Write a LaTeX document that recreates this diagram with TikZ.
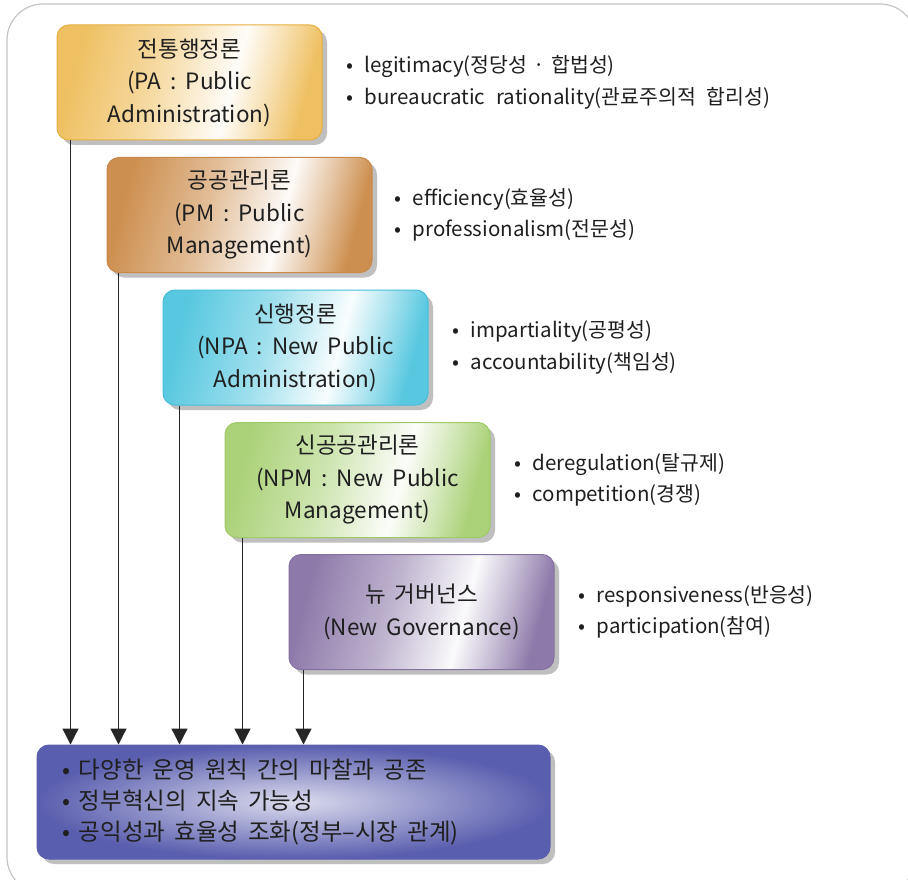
\documentclass[tikz,border=0pt]{standalone}
\usepackage{fontspec}
\setmainfont{Noto Sans CJK KR}
\usetikzlibrary{arrows.meta,shadows,positioning}

% box colours: fill tone and border tone
\definecolor{paC}{HTML}{EFC062}
\definecolor{paB}{HTML}{E6B040}
\definecolor{pmC}{HTML}{CD8F4F}
\definecolor{pmB}{HTML}{C8884A}
\definecolor{npaC}{HTML}{58C8E0}
\definecolor{npaB}{HTML}{48BED8}
\definecolor{npmC}{HTML}{ABD279}
\definecolor{npmB}{HTML}{9FCA66}
\definecolor{ngC}{HTML}{8E7AAA}
\definecolor{ngB}{HTML}{8670A2}
\definecolor{resC}{HTML}{5A5EAE}
\definecolor{frameC}{HTML}{C4C4C4}

% diagonal light streak across a box
\newcommand\mkstreak[2]{%
  \colorlet{#1-a}{#2!58!white}%
  \colorlet{#1-b}{#2!4!white}%
  \colorlet{#1-c}{#2!50!white}%
  \pgfdeclarehorizontalshading{#1}{100bp}{color(0bp)=(#2); color(25bp)=(#2);
    color(43bp)=(#1-a); color(59bp)=(#1-b); color(67bp)=(#1-c);
    color(75bp)=(#2); color(100bp)=(#2)}}
\mkstreak{shPA}{paC}
\mkstreak{shPM}{pmC}
\mkstreak{shNPA}{npaC}
\mkstreak{shNPM}{npmC}
\mkstreak{shNG}{ngC}

% narrow spacing around a middle dot
\newcommand\mdot{\hspace{0.3em}·\hspace{0.3em}}
% word gap in the summary box
\newcommand\wgap{\hspace{9pt}}

\tikzset{
  theory/.style={shade, rounded corners=12pt, minimum width=265pt,
    minimum height=115pt, inner sep=0pt, align=center, line width=1pt,
    font={\fontsize{22.5}{32.5}\selectfont\spaceskip=9pt\relax},
    text=black!88, shading angle=-15,
    drop shadow={shadow xshift=5pt, shadow yshift=-5pt, fill=black!25, opacity=1}},
  items/.style={align=left, inner sep=0pt, anchor=west,
    font={\fontsize{20.5}{31.5}\selectfont\spaceskip=11pt\relax}, text=black!88},
  resbox/.style={rounded corners=12pt, minimum width=513pt, minimum height=114pt,
    text width=463pt, inner xsep=25pt, align=left, line width=1pt,
    draw=resC, inner color=resC!22!white, outer color=resC,
    font=\fontsize{23.5}{31}\selectfont, text=black!88,
    drop shadow={shadow xshift=5pt, shadow yshift=-5pt, fill=black!25, opacity=1}},
  flow/.style={line width=1.3pt, draw=black!85,
    -{Triangle[width=16pt,length=16pt]}},
  frame/.style={draw=frameC, line width=1.2pt, rounded corners=36pt},
}

\begin{document}
\begin{tikzpicture}[x=1pt, y=-1pt]
  \useasboundingbox (0,0) rectangle (908,880);
  \fill[white] (0,0) rectangle (908,880);
  \draw[frame] (7,4) rectangle (916,893);

  % five theory boxes
  \node[theory, shading=shPA, draw=paB] (pa) at (189.5,82.5)
    {전통행정론\\(PA : Public\\Administration)};
  \node[theory, shading=shPM, draw=pmB] (pm) at (239.5,215)
    {공공관리론\\(PM : Public\\Management)};
  \node[theory, shading=shNPA, draw=npaB] (npa) at (295.5,347.5)
    {신행정론\\(NPA : New Public\\Administration)};
  \node[theory, shading=shNPM, draw=npmB] (npm) at (357.5,480)
    {신공공관리론\\(NPM : New Public\\Management)};
  \node[theory, shading=shNG, draw=ngB] (ng) at (421.5,612)
    {뉴 거버넌스\\(New Governance)};

  % values attached to each theory
  \node[items, right=24pt of pa] (pa-items)
    {• legitimacy(정당성\mdot 합법성)\\• bureaucratic rationality(관료주의적 합리성)};
  \node[items, right=22pt of pm] (pm-items)
    {• efficiency(효율성)\\• professionalism(전문성)};
  \node[items, right=24pt of npa] (npa-items)
    {• impartiality(공평성)\\• accountability(책임성)};
  \node[items, right=24pt of npm] (npm-items)
    {• deregulation(탈규제)\\• competition(경쟁)};
  \node[items, right=24pt of ng] (ng-items)
    {• responsiveness(반응성)\\• participation(참여)};

  % summary box
  \node[resbox] (res) at (293.5,802)
    {•\wgap 다양한\wgap 운영\wgap 원칙\wgap 간의\wgap 마찰과\wgap 공존\\
     •\wgap 정부혁신의\wgap 지속\wgap 가능성\\
     •\wgap 공익성과\wgap 효율성\wgap 조화(정부–시장\wgap 관계)};

  % connectors into the summary box
  \draw[flow] ([xshift=14pt]pa.south west)  -- ([xshift=14pt]pa.south west |- res.north);
  \draw[flow] ([xshift=12pt]pm.south west)  -- ([xshift=12pt]pm.south west |- res.north);
  \draw[flow] ([xshift=17pt]npa.south west) -- ([xshift=17pt]npa.south west |- res.north);
  \draw[flow] ([xshift=18pt]npm.south west) -- ([xshift=18pt]npm.south west |- res.north);
  \draw[flow] ([xshift=15pt]ng.south west)  -- ([xshift=15pt]ng.south west |- res.north);
\end{tikzpicture}
\end{document}
